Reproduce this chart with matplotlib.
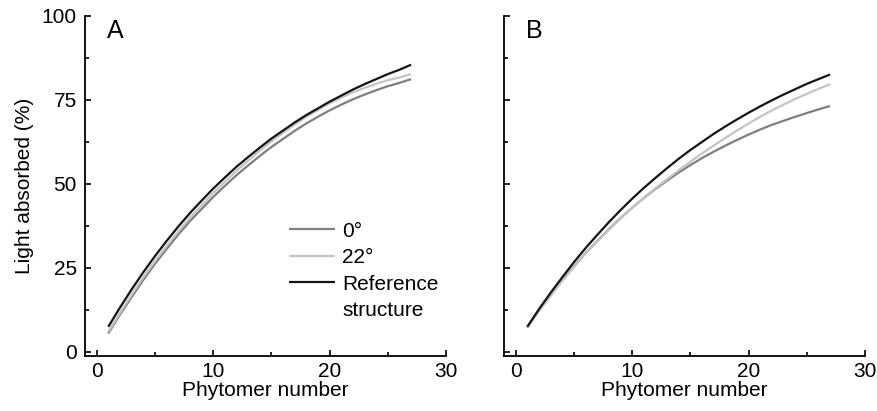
import matplotlib
matplotlib.use("Agg")
import matplotlib.pyplot as plt
from matplotlib.ticker import MultipleLocator
from matplotlib.lines import Line2D

plt.rcParams['font.family'] = ['Liberation Sans', 'DejaVu Sans']

phytomer = list(range(1, 28))

# Panel A
a_0deg = [5.5, 11.1, 16.3, 21.4, 26.2, 30.6, 34.9, 38.9, 42.5, 46.1, 49.4, 52.6, 55.5, 58.3,
          61.0, 63.4, 65.8, 68.0, 70.0, 71.9, 73.6, 75.2, 76.6, 77.9, 79.1, 80.1, 81.2]
a_22deg = [6.0, 11.6, 17.0, 22.2, 27.0, 31.5, 35.8, 39.9, 43.6, 47.3, 50.6, 53.9, 56.9, 59.9,
           62.7, 65.2, 67.7, 70.0, 72.0, 74.0, 75.7, 77.3, 78.6, 79.8, 80.9, 81.7, 82.7]
a_ref = [7.5, 13.2, 18.6, 23.7, 28.5, 33.0, 37.3, 41.3, 45.0, 48.6, 51.9, 55.1, 58.0, 60.8,
         63.5, 65.9, 68.3, 70.5, 72.5, 74.5, 76.3, 78.1, 79.7, 81.2, 82.7, 84.0, 85.5]

# Panel B
b_0deg = [7.3, 12.3, 16.8, 21.3, 25.4, 29.4, 33.0, 36.5, 39.8, 42.9, 45.8, 48.5, 51.0, 53.4,
          55.6, 57.7, 59.6, 61.4, 63.1, 64.7, 66.2, 67.6, 68.8, 70.0, 71.1, 72.2, 73.2]
b_22deg = [7.4, 12.3, 16.8, 21.2, 25.3, 29.3, 32.9, 36.4, 39.7, 42.9, 45.9, 48.7, 51.4, 54.1,
           56.6, 59.1, 61.4, 63.7, 65.9, 68.0, 70.0, 71.9, 73.6, 75.3, 76.8, 78.3, 79.7]
b_ref = [7.5, 12.7, 17.6, 22.2, 26.7, 30.9, 34.8, 38.6, 42.2, 45.6, 48.8, 51.8, 54.7, 57.5,
         60.1, 62.5, 64.9, 67.1, 69.2, 71.2, 73.1, 74.9, 76.6, 78.2, 79.8, 81.2, 82.6]

series_labels = ['0°', '22°', 'Reference']
legend_extra_line = 'structure'
series_colors = ['#7f7f7f', '#c4c4c4', '#141414']
x_ticks = [0, 10, 20, 30]
y_ticks = [0, 25, 50, 75, 100]
panel_letters = ['A', 'B']

FS = 15

fig = plt.figure(figsize=(8.78, 4.11), dpi=100)
axA = fig.add_axes([0.0968, 0.1338, 0.4112, 0.8273])
axB = fig.add_axes([0.5740, 0.1338, 0.4112, 0.8273])

panels = [(axA, [a_0deg, a_22deg, a_ref]), (axB, [b_0deg, b_22deg, b_ref])]

handles = []
for i, (ax, data) in enumerate(panels):
    for vals, lab, col in zip(data, series_labels, series_colors):
        ln, = ax.plot(phytomer, vals, color=col, lw=1.6, label=lab, solid_capstyle='butt')
        if i == 0:
            handles.append(ln)
    ax.set_xlim(-1, 30)
    ax.set_ylim(-1.2, 100)
    ax.spines['top'].set_visible(False)
    ax.spines['right'].set_visible(False)
    for s in ['left', 'bottom']:
        ax.spines[s].set_linewidth(1.3)
    ax.xaxis.set_minor_locator(MultipleLocator(5))
    ax.yaxis.set_minor_locator(MultipleLocator(12.5))
    ax.set_xticks(x_ticks)
    ax.set_yticks(y_ticks)
    ax.tick_params(which='major', direction='in', length=4.5, width=1.2, labelsize=FS)
    ax.tick_params(which='minor', direction='in', length=3.0, width=1.2)
    ax.tick_params(axis='x', which='major', pad=4.5)
    ax.tick_params(axis='y', which='major', pad=6)
    ax.set_xlabel('Phytomer number', fontsize=FS, labelpad=0)
    ax.text(0.06, 0.99, panel_letters[i], transform=ax.transAxes, fontsize=18,
            va='top', ha='left')

axA.set_ylabel('Light absorbed (%)', fontsize=FS, labelpad=5.5)
axB.tick_params(axis='y', labelleft=False)

blank = Line2D([], [], color='none')
leg = axA.legend(handles + [blank], series_labels + [legend_extra_line],
                 loc='upper left', bbox_to_anchor=(0.565, 0.395), frameon=False,
                 fontsize=FS, handlelength=2.2, handletextpad=0.35,
                 borderpad=0, borderaxespad=0, labelspacing=0.36)

fig.savefig('out.png', dpi=100)
